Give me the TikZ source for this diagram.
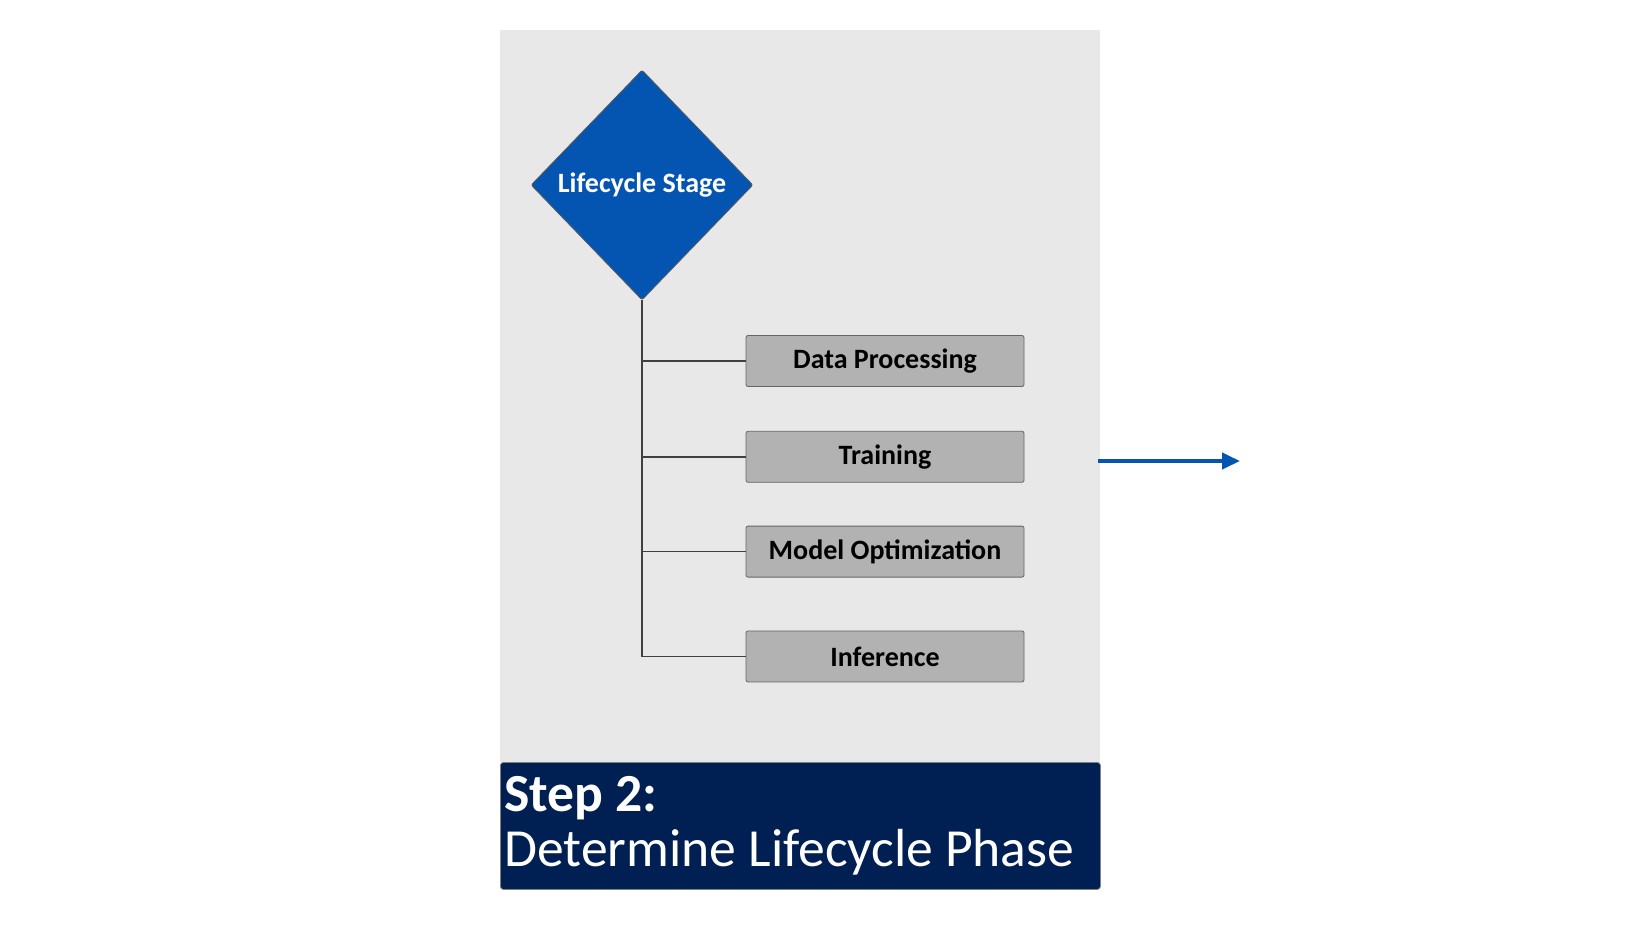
\documentclass[tikz,border=0pt]{standalone}
\usepackage{fontspec}
\setmainfont{Carlito}
\usetikzlibrary{positioning}
\usetikzlibrary{arrows.meta}
\usetikzlibrary{shapes.geometric}

\definecolor{panelgray}{RGB}{232,232,232}
\definecolor{stageblue}{RGB}{4,85,178}
\definecolor{phasegray}{RGB}{178,178,178}
\definecolor{stepnavy}{RGB}{0,31,82}

\begin{document}
\begin{tikzpicture}[
  x=0.5pt, y=-0.5pt, % one unit = one pixel of the slide
  panel/.style={fill=panelgray, draw=none, minimum width=300pt, minimum height=366pt},
  stage/.style={
    diamond,
    draw=black!65,
    fill=stageblue,
    text=white,
    inner sep=0pt,
    rounded corners=1pt,
    font=\bfseries\fontsize{14}{16}\selectfont,
    minimum width=111pt,
    minimum height=115pt
  },
  phase/.style={
    draw=black!60,
    fill=phasegray,
    rounded corners=1pt,
    font=\bfseries\fontsize{14}{16}\selectfont,
    minimum width=139pt,
    minimum height=25.5pt
  },
  stepbox/.style={
    draw=black!50,
    fill=stepnavy,
    text=white,
    rounded corners=1.5pt,
    align=flush left,
    anchor=north west,
    inner xsep=2pt,
    inner ysep=0pt,
    text width=296pt,
    minimum height=63.5pt,
    font=\fontsize{26.8}{27.5}\selectfont
  },
  branch/.style={draw=black!75, line width=0.7pt},
  arrow/.style={-{Triangle[length=9pt, width=8pt]}, stageblue, line width=2pt}
]
\useasboundingbox (0,0) rectangle (1648,927);

\node[panel] (panel) at (800,396) {};

\node[stage] (stage) at (642,185) {Lifecycle Stage};

\node[phase] (dp) at (885,361) {Data Processing};
\node[phase, below=22pt of dp] (train) {Training};
\node[phase, below=21.5pt of train] (optim) {Model Optimization};
\node[phase, below=26.5pt of optim] (infer) {Inference};

\draw[branch] (stage.south) |- (infer.west);
\draw[branch] (stage.south |- dp.west) -- (dp.west);
\draw[branch] (stage.south |- train.west) -- (train.west);
\draw[branch] (stage.south |- optim.west) -- (optim.west);

\node[stepbox] (step) at (500,762) {\textbf{Step 2:}\\Determine Lifecycle Phase};

\coordinate (out) at (1240,461);
\draw[arrow] (panel.east |- out) ++(-2,0) -- (out);
\end{tikzpicture}
\end{document}
